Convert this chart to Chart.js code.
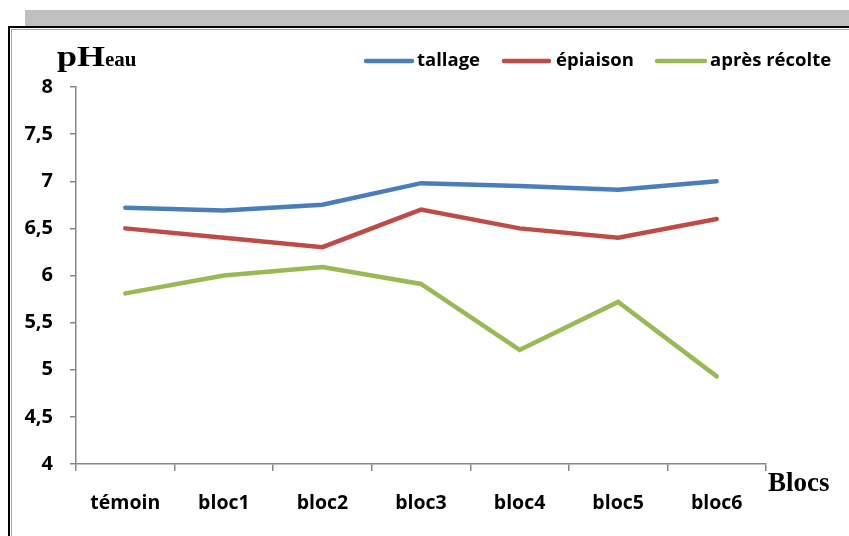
<!DOCTYPE html>
<html>
<head>
<meta charset="utf-8">
<script src="https://cdn.jsdelivr.net/npm/chart.js@4/dist/chart.umd.min.js"></script>
<style>
  html, body { margin:0; padding:0; background:#fff; }
  #wrap { position:relative; width:849px; height:536px; overflow:hidden; background:#fff; }
  .f { position:absolute; }
  canvas { position:absolute; left:0; top:0; }
</style>
</head>
<body>
<div id="wrap">
  <div class="f" style="left:25px;top:10px;width:824px;height:16px;background:#c0c0c0;"></div>
  <div class="f" style="left:8px;top:26px;width:841px;height:2px;background:#000;"></div>
  <div class="f" style="left:8px;top:26px;width:2px;height:510px;background:#000;"></div>
  <div class="f" style="left:11px;top:29px;width:838px;height:1px;background:#a6a6a6;"></div>
  <div class="f" style="left:11px;top:29px;width:1px;height:507px;background:#a6a6a6;"></div>
  <canvas id="c" width="849" height="536"></canvas>
</div>
<script>
const categories = ["témoin", "bloc1", "bloc2", "bloc3", "bloc4", "bloc5", "bloc6"];
const tallage = [6.72, 6.69, 6.75, 6.98, 6.95, 6.91, 7.0];
const epiaison = [6.50, 6.40, 6.30, 6.70, 6.50, 6.40, 6.60];
const apresRecolte = [5.81, 6.00, 6.09, 5.91, 5.21, 5.72, 4.93];
const seriesNames = ["tallage", "épiaison", "après récolte"];
const yTicks = [4, 4.5, 5, 5.5, 6, 6.5, 7, 7.5, 8];

const colors = ["#4a7ebb", "#be4b48", "#98b954"];
const FONT = "'Open Sans', 'DejaVu Sans', sans-serif";

const overlay = {
  id: 'overlay',
  afterDraw(chart) {
    const ctx = chart.ctx;
    ctx.save();
    // legend
    const legendPos = [[366, 412, 417], [504, 549, 556], [657, 705, 710]];
    const ly = 61;
    chart.data.datasets.forEach((ds, i) => {
      const [x1, x2, tx] = legendPos[i];
      ctx.strokeStyle = ds.borderColor;
      ctx.lineWidth = 4.5;
      ctx.lineCap = 'round';
      ctx.beginPath(); ctx.moveTo(x1, ly); ctx.lineTo(x2, ly); ctx.stroke();
      ctx.fillStyle = '#000';
      ctx.font = "bold 18.5px " + FONT;
      ctx.textAlign = 'left';
      ctx.textBaseline = 'middle';
      ctx.fillText(ds.label, tx, ly);
    });
    // y title "pHeau"
    ctx.textBaseline = 'alphabetic';
    ctx.fillStyle = '#000';
    ctx.save();
    ctx.translate(57, 66);
    ctx.scale(1.2, 1);
    ctx.font = "bold 30px 'Liberation Serif', 'Times New Roman', serif";
    ctx.fillText('pH', 0, 0);
    const w = ctx.measureText('pH').width;
    ctx.restore();
    ctx.font = "bold 21px 'Liberation Serif', 'Times New Roman', serif";
    ctx.fillText('eau', 57 + w * 1.2, 66);
    // x title
    ctx.font = "bold 27px 'Liberation Serif', 'Times New Roman', serif";
    ctx.fillText('Blocs', 768, 491);
    ctx.restore();
  }
};

new Chart(document.getElementById('c'), {
  type: 'line',
  data: {
    labels: categories,
    datasets: [tallage, epiaison, apresRecolte].map((d, i) => ({
      label: seriesNames[i],
      data: d,
      borderColor: colors[i],
      backgroundColor: colors[i],
      borderWidth: 4.5,
      pointRadius: 0,
      tension: 0,
      fill: false,
      borderCapStyle: 'round',
      borderJoinStyle: 'miter'
    }))
  },
  options: {
    responsive: false,
    animation: false,
    devicePixelRatio: 1,
    layout: { padding: { left: 0, top: 87, right: 83, bottom: 0 } },
    plugins: { legend: { display: false }, tooltip: { enabled: false } },
    scales: {
      x: {
        offset: true,
        grid: { offset: true, drawOnChartArea: false, drawTicks: true, tickLength: 7, color: '#868686', lineWidth: 1.5 },
        border: { color: '#868686', width: 1.5 },
        ticks: { color: '#000', font: { family: FONT, size: 19.5, weight: 'bold' }, padding: 21, maxRotation: 0 },
        afterFit(s) { s.height = 72; }
      },
      y: {
        min: 4, max: 8,
        afterBuildTicks(s) { s.ticks = yTicks.map(v => ({ value: v })); },
        grid: { drawOnChartArea: false, drawTicks: true, tickLength: 6, color: '#868686', lineWidth: 1.5 },
        border: { color: '#868686', width: 1.5 },
        ticks: { color: '#000', font: { family: FONT, size: 20, weight: 'bold' }, padding: 17,
          callback: v => String(v).replace('.', ',') },
        afterFit(s) { s.width = 76; }
      }
    }
  },
  plugins: [overlay]
});
</script>
</body>
</html>
